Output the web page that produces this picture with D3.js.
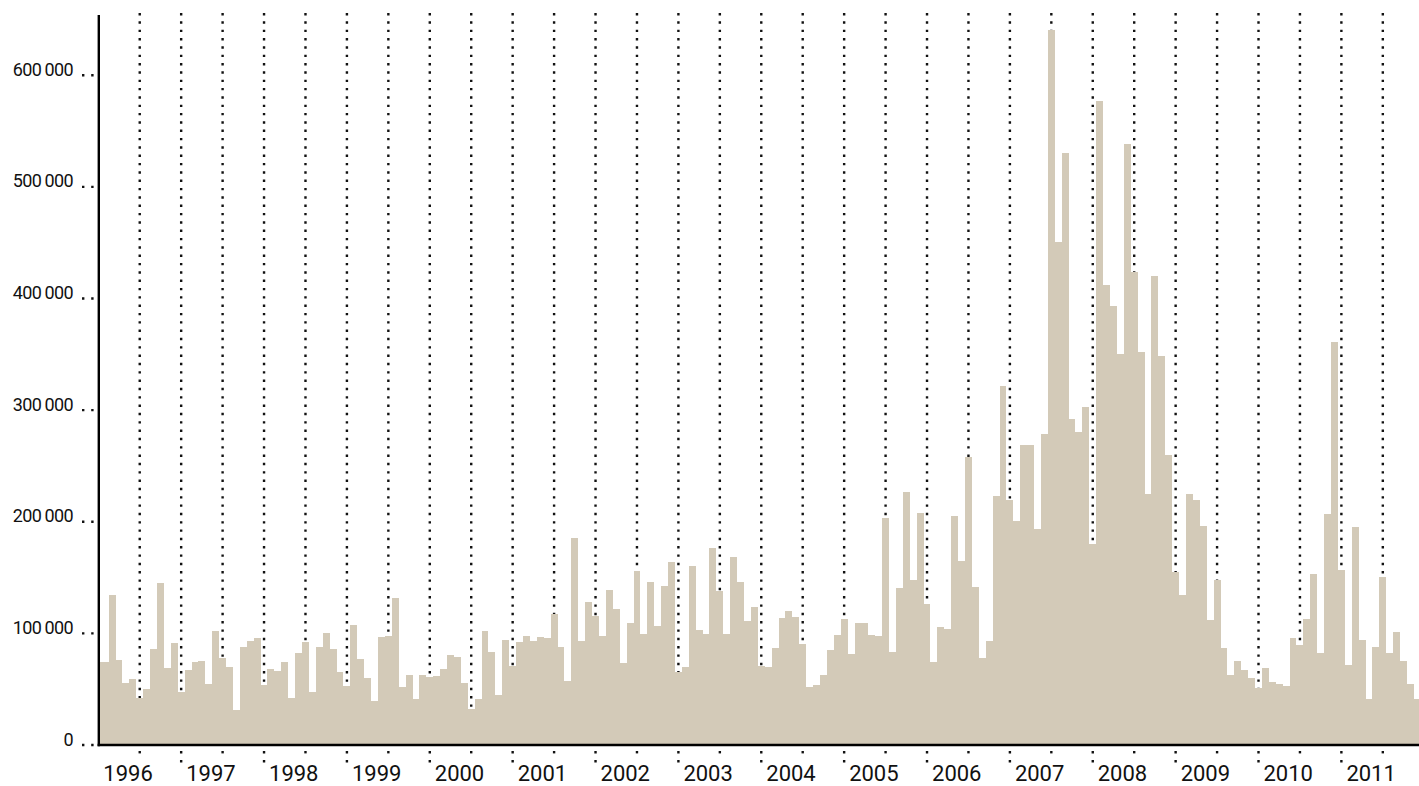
<!DOCTYPE html>
<html lang="en">
<head>
<meta charset="UTF-8">
<title>Monthly volume 1996-2011</title>
<script src="https://d3js.org/d3.v7.min.js"></script>
<style>
  body { margin: 0; background: #fff; }
  svg { display: block; font-family: Roboto, "Liberation Sans", sans-serif; }
</style>
</head>
<body>
<svg id="chart"></svg>
<script>
// first month of the series
var startYear = 1996;

// monthly values, thousands (one row per year, Jan..Dec)
var monthly = [
  74.6, 74.6, 134.4, 76.2, 55.8, 59.1, 42.4, 50.2, 86.0, 145.0, 69.0, 91.4,      // 1996
  47.8, 67.2, 74.4, 75.3, 55.0, 102.0, 78.0, 69.9, 31.7, 88.0, 93.2, 95.9,       // 1997
  54.0, 68.1, 66.3, 74.4, 42.4, 82.4, 92.3, 47.8, 88.0, 100.4, 86.0, 65.4,       // 1998
  53.2, 107.5, 77.0, 60.0, 39.4, 96.8, 97.7, 131.7, 52.0, 62.7, 41.2, 62.7,      // 1999
  60.9, 61.8, 68.1, 80.6, 78.8, 55.6, 32.3, 41.2, 102.0, 83.3, 44.8, 94.0,       // 2000
  70.8, 92.3, 97.7, 93.2, 96.8, 95.9, 117.4, 87.8, 57.3, 185.5, 93.2, 128.0,     // 2001
  115.6, 97.7, 138.9, 121.9, 73.5, 109.3, 155.9, 99.5, 146.0, 106.6, 142.5, 164.0, // 2002
  65.4, 69.9, 160.4, 103.0, 99.5, 176.5, 138.0, 99.5, 168.4, 146.0, 111.0, 123.6,  // 2003
  70.8, 69.9, 86.9, 113.8, 120.0, 114.7, 90.5, 52.0, 53.8, 62.7, 85.1, 98.6,     // 2004
  112.9, 81.5, 109.3, 109.3, 98.6, 97.7, 203.4, 83.3, 140.7, 226.7, 147.8, 207.9,  // 2005
  126.3, 74.4, 105.7, 103.9, 205.2, 164.9, 258.0, 141.6, 78.0, 93.2, 223.0, 321.7, // 2006
  219.5, 200.7, 268.8, 268.8, 193.5, 278.6, 640.4, 450.7, 530.4, 291.9, 280.6, 302.7, // 2007
  180.5, 577.0, 412.3, 393.6, 350.7, 538.7, 423.6, 352.3, 225.2, 420.3, 348.5, 260.2, // 2008
  155.1, 134.8, 225.2, 219.8, 196.4, 112.2, 148.0, 87.2, 63.0, 75.5, 67.2, 60.0,  // 2009
  51.1, 69.0, 56.4, 54.7, 52.9, 95.9, 89.6, 112.9, 153.2, 82.4, 207.0, 361.0,    // 2010
  156.8, 71.7, 195.3, 94.0, 41.2, 87.8, 150.5, 82.4, 101.2, 75.3, 54.7, 41.2     // 2011
];

var yearLabels = ["1996", "1997", "1998", "1999", "2000", "2001", "2002", "2003",
                  "2004", "2005", "2006", "2007", "2008", "2009", "2010", "2011"];

var yTicks = [0, 100000, 200000, 300000, 400000, 500000, 600000];

var W = 1419, H = 786;
var axisX = 98.8, baseY = 745, topY = 15;

var svg = d3.select("#chart").attr("width", W).attr("height", H);

// month index -> x of the month's centre
var x = d3.scaleLinear()
    .domain([0, monthly.length])
    .range([98.3, 98.3 + monthly.length * 6.906]);

var y = d3.scaleLinear()
    .domain([0, 654000])
    .range([baseY, topY]);

svg.append("clipPath").attr("id", "plot")
  .append("rect")
    .attr("x", 100).attr("y", 0)
    .attr("width", W - 100).attr("height", baseY);

// dotted half-year grid lines (behind bars)
var gridIdx = d3.range(6, monthly.length, 6);

svg.append("g").selectAll("line")
    .data(gridIdx)
  .enter().append("line")
    .attr("x1", function (d) { return x(d); })
    .attr("x2", function (d) { return x(d); })
    .attr("y1", 13)
    .attr("y2", baseY)
    .attr("stroke", "#111")
    .attr("stroke-width", 2.4)
    .attr("stroke-dasharray", "2.4 5.93");

// dotted ticks below the axis: one dot mid-year, two dots at the year
svg.append("g").selectAll("line")
    .data(gridIdx)
  .enter().append("line")
    .attr("x1", function (d) { return x(d); })
    .attr("x2", function (d) { return x(d); })
    .attr("y1", 751)
    .attr("y2", function (d) { return d % 12 === 0 ? 762.5 : 753.4; })
    .attr("stroke", "#111")
    .attr("stroke-width", 2.4)
    .attr("stroke-dasharray", "2.4 6.6");

// bars
svg.append("g")
    .attr("clip-path", "url(#plot)")
  .selectAll("rect")
    .data(monthly)
  .enter().append("rect")
    .attr("x", function (d, i) { return x(i - 0.5); })
    .attr("width", function (d, i) { return x(i + 0.5) - x(i - 0.5); })
    .attr("y", function (d) { return y(d * 1000); })
    .attr("height", function (d) { return baseY - y(d * 1000); })
    .attr("fill", "#d3cab8")
    .attr("shape-rendering", "crispEdges");

// axis lines
svg.append("line")
    .attr("x1", axisX).attr("x2", axisX)
    .attr("y1", topY).attr("y2", baseY + 1.2)
    .attr("stroke", "#000").attr("stroke-width", 2.4);

svg.append("line")
    .attr("x1", axisX - 1.2).attr("x2", W)
    .attr("y1", baseY).attr("y2", baseY)
    .attr("stroke", "#000").attr("stroke-width", 2.4);

// y ticks and labels
var fmt = function (v) { return d3.format(",")(v).replace(/,/g, "\u2009"); };

var yt = svg.append("g").selectAll("g")
    .data(yTicks)
  .enter().append("g")
    .attr("transform", function (d) { return "translate(0," + y(d) + ")"; });

yt.append("line")
    .attr("x1", 82).attr("x2", 94.5)
    .attr("stroke", "#111")
    .attr("stroke-width", 2.4)
    .attr("stroke-dasharray", "2.4 6.8");

yt.append("text")
    .attr("x", 73)
    .attr("y", 0.5)
    .attr("text-anchor", "end")
    .attr("font-size", 18)
    .attr("letter-spacing", -0.6)
    .attr("fill", "#111")
    .text(function (d) { return fmt(d); });

// year labels
svg.append("g").selectAll("text")
    .data(yearLabels)
  .enter().append("text")
    .attr("x", function (d, i) { return Math.max(x(i * 12) + 5, 100); })
    .attr("y", 780.5)
    .attr("font-size", 22)
    .attr("fill", "#111")
    .text(function (d) { return d; });
</script>
</body>
</html>
